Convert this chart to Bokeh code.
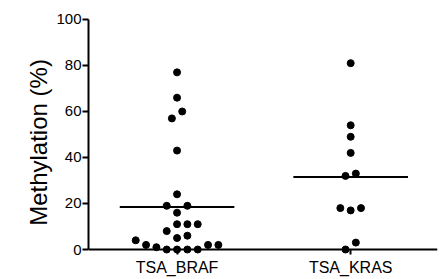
import math
import numpy as np
from bokeh.plotting import figure
from bokeh.models import Range1d, FixedTicker, ColumnDataSource
from bokeh.embed import file_html
from bokeh.resources import INLINE

# ---- data ----
categories = ["TSA_BRAF", "TSA_KRAS"]
braf_values = [77, 66, 60, 57, 43, 24, 19, 19, 16, 11, 11, 11, 8, 6, 5, 4, 2, 2, 2, 1, 0, 0, 0, 0]
kras_values = [81, 54, 49, 42, 33, 32, 18, 18, 17, 3, 0]
y_ticks = [0, 20, 40, 60, 80, 100]
y_label = "Methylation (%)"

FONT = "Liberation Sans"
W, H = 444, 279
BL, BR, BT, BB = 88, 7, 7, 2
X0, X1 = 0.49, 2.5
Y0, Y1 = -12.17, 105.2    # frame padded so the axis labels are not clipped
SLOT_PX = 10.33          # horizontal spacing of swarm slots, px
MEAN_HALF = 0.33         # half width of mean bar, x units

x_px = (W - BL - BR) / (X1 - X0)
y_px = (H - BT - BB) / (Y1 - Y0)


def swarm_slots(vals):
    """Greedy beeswarm: integer slot per point, then centre small clusters."""
    vals = np.asarray(vals, dtype=float)
    order = np.argsort(vals, kind="stable")
    cands = [0]
    for k in range(1, 12):
        cands += [k, -k]
    placed = []
    slots = np.zeros(len(vals))
    for i in order:
        yy = vals[i] * y_px
        for s in cands:
            if all(math.hypot((s - ps) * SLOT_PX, yy - py) >= SLOT_PX - 1e-6 for ps, py in placed):
                break
        slots[i] = s
        placed.append((s, yy))
    sorted_idx = list(order)
    clusters, cur = [], [sorted_idx[0]]
    for a, b in zip(sorted_idx[:-1], sorted_idx[1:]):
        if (vals[b] - vals[a]) * y_px < SLOT_PX:
            cur.append(b)
        else:
            clusters.append(cur)
            cur = [b]
    clusters.append(cur)
    for c in clusters:
        shift = round(np.mean(slots[c]) * 2) / 2
        slots[c] -= shift
    return slots


p = figure(width=W, height=H, output_backend="svg", toolbar_location=None,
           x_range=Range1d(X0, X1), y_range=Range1d(Y0, Y1),
           min_border_left=BL, min_border_right=BR, min_border_top=BT, min_border_bottom=BB)
p.outline_line_color = None
p.grid.visible = False
p.background_fill_color = "white"
p.border_fill_color = "white"

series = [braf_values, kras_values]
for ci, vals in enumerate(series):
    pos = ci + 1
    slots = swarm_slots(vals)
    xs = pos + slots * SLOT_PX / x_px
    src = ColumnDataSource(dict(x=xs, y=vals))
    p.scatter("x", "y", source=src, size=7, color="black", line_color="black")
    m = float(np.mean(vals))
    p.segment(x0=[pos - MEAN_HALF], y0=[m], x1=[pos + MEAN_HALF], y1=[m],
              line_color="black", line_width=2)

# y axis
ya = p.yaxis[0]
ya.ticker = FixedTicker(ticks=y_ticks)
ya.bounds = (0, 100)
ya.axis_line_width = 2
ya.major_tick_line_width = 2
ya.major_tick_out = 6
ya.major_tick_in = 0
ya.minor_tick_out = 0
ya.minor_tick_in = 0
ya.major_label_standoff = 1
ya.major_label_text_font = FONT
ya.major_label_text_font_size = "15px"
ya.major_label_text_color = "black"
ya.axis_line_color = "black"
ya.major_tick_line_color = "black"
ya.axis_label = y_label
ya.axis_label_text_font = FONT
ya.axis_label_text_font_size = "24px"
ya.axis_label_text_font_style = "normal"
ya.axis_label_text_color = "black"
ya.axis_label_standoff = 1

# x axis
xa = p.xaxis[0]
xa.fixed_location = 0
xa.ticker = FixedTicker(ticks=[i + 1 for i in range(len(categories))])
xa.major_label_overrides = {i + 1: c for i, c in enumerate(categories)}
xa.axis_line_width = 2
xa.major_tick_line_width = 2
xa.major_tick_out = 5
xa.major_tick_in = 0
xa.minor_tick_out = 0
xa.minor_tick_in = 0
xa.major_label_standoff = 4
xa.major_label_text_font = FONT
xa.major_label_text_font_size = "16px"
xa.major_label_text_color = "black"
xa.axis_line_color = "black"
xa.major_tick_line_color = "black"

open("out.html", "w").write(file_html(p, INLINE))
